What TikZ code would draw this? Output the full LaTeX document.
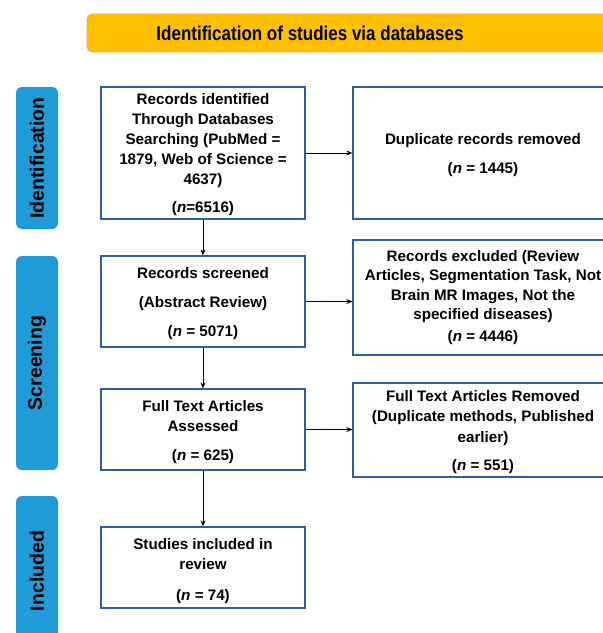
\documentclass[tikz,border=0pt]{standalone}
\usepackage{fontspec}
\setmainfont{Liberation Sans}
\newfontfamily\headfont[FakeStretch=0.85]{Liberation Sans}
\usetikzlibrary{arrows.meta}

\definecolor{hdrfill}{HTML}{FFC000}
\definecolor{hdrline}{HTML}{E8B04A}
\definecolor{phasefill}{HTML}{1F9BD7}
\definecolor{boxline}{HTML}{2E5EA8}

\tikzset{
  stagebox/.style={draw=boxline, line width=1.3pt, fill=white, rectangle, inner sep=0pt},
  leftbox/.style={stagebox, minimum width=204, minimum height=#1},
  rightbox/.style={stagebox, minimum width=260, minimum height=#1},
  boxtext/.style={align=center, inner sep=0pt,
    font=\fontsize{15.2}{20}\selectfont\bfseries},
  phase/.style={fill=phasefill, rounded corners=6pt, rotate=90,
    minimum height=42, minimum width=#1, inner sep=0pt,
    font=\fontsize{19.5}{22}\selectfont\bfseries},
  flow/.style={draw=black, line width=0.8pt, -{Stealth[length=6pt,width=5pt]}},
}

\begin{document}
\begin{tikzpicture}[x=1pt, y=-1pt]
\useasboundingbox (0,0) rectangle (603,633);
\clip (0,0) rectangle (603,633);

% title banner
\draw[fill=hdrfill, draw=hdrline, line width=0.8pt, rounded corners=6pt]
  (87,14) rectangle (660,52);
\node[font=\headfont\fontsize{20}{24}\selectfont\bfseries] (title) at (310,33)
  {Identification of studies via databases};

% phase labels
\node[phase=142] (phid) at (37,158) {Identification};
\node[phase=214] (phsc) at (37,363) {Screening};
\node[phase=150] (phin) at (37,571) {Included};

% left column boxes
\node[leftbox=132] (found)    at (203,153)   {};
\node[leftbox=91]  (screened) at (203,301.5) {};
\node[leftbox=81]  (fulltext) at (203,429.5) {};
\node[leftbox=81]  (included) at (203,567.5) {};

% right column boxes
\node[rightbox=132] (dups)     at (483,153)   {};
\node[rightbox=115] (excluded) at (483,297.5) {};
\node[rightbox=94]  (removed)  at (483,430)   {};

% box texts
\node[boxtext] (foundtxt) at (203,155)
  {Records identified\\Through Databases\\Searching (PubMed =\\1879, Web of Science =\\4637)\\[8pt](\textit{n}=6516)};
\node[boxtext] (screenedtxt) at (203,304)
  {Records screened\\[9pt](Abstract Review)\\[9pt](\textit{n} = 5071)};
\node[boxtext] (fulltexttxt) at (203,432.5)
  {Full Text Articles\\Assessed\\[9pt](\textit{n} = 625)};
\node[boxtext] (includedtxt) at (203,571)
  {Studies included in\\review\\[11pt](\textit{n} = 74)};
\node[boxtext] (dupstxt) at (483,155)
  {Duplicate records removed\\[9pt](\textit{n} = 1445)};
\node[boxtext, font=\fontsize{15.2}{19.5}\selectfont\bfseries] (excludedtxt) at (483,297.5)
  {Records excluded (Review\\Articles, Segmentation Task, Not\\Brain MR Images, Not the\\specified diseases)\\[2.5pt](\textit{n} = 4446)};
\node[boxtext, font=\fontsize{15.2}{20.5}\selectfont\bfseries] (removedtxt) at (483,432)
  {Full Text Articles Removed\\(Duplicate methods, Published\\earlier)\\[7.5pt](\textit{n} = 551)};

% connectors
\draw[flow] (found) -- (dups);
\draw[flow] (screened) -- (excluded.west |- screened);
\draw[flow] (fulltext) -- (removed.west |- fulltext);
\draw[flow] (found) -- (screened);
\draw[flow] (screened) -- (fulltext);
\draw[flow] (fulltext) -- (included);
\end{tikzpicture}
\end{document}
